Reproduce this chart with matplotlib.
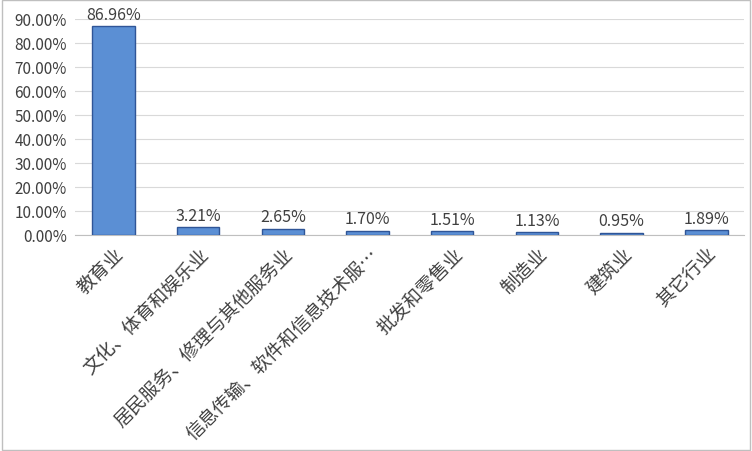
import matplotlib
matplotlib.use("Agg")
import matplotlib.pyplot as plt
from matplotlib.patches import Rectangle

plt.rcParams['font.family'] = ['Noto Sans CJK SC', 'DejaVu Sans']

categories = ["教育业", "文化、体育和娱乐业", "居民服务、修理与其他服务业", "信息传输、软件和信息技术服…",
              "批发和零售业", "制造业", "建筑业", "其它行业"]
values = [86.96, 3.21, 2.65, 1.70, 1.51, 1.13, 0.95, 1.89]
yticks = [0, 10, 20, 30, 40, 50, 60, 70, 80, 90]

fig = plt.figure(figsize=(7.52, 4.52), dpi=100)
ax = fig.add_axes([0.1, 0.478, 0.89, 0.478])
x = list(range(len(categories)))
ax.bar(x, values, width=0.5, color='#5b8fd4', edgecolor='#2f5597', linewidth=1.0, zorder=3)
for xi, v in zip(x, values):
    ax.text(xi, v + 1.5, f"{v:.2f}%", ha='center', va='bottom', fontsize=11.5, color='#404040')
ax.set_ylim(0, 90)
ax.set_xlim(-0.45, len(categories) - 0.55)
ax.set_yticks(yticks)
ax.set_yticklabels([f"{t:.2f}%" for t in yticks], fontsize=11, color='#404040')
ax.set_xticks(x)
ax.set_xticklabels(categories, rotation=45, ha='right', rotation_mode='anchor', fontsize=13.5, color='#404040')
ax.tick_params(length=0, pad=6)
ax.grid(axis='y', color='#d9d9d9', linewidth=0.8, zorder=0)
for s in ['top', 'right', 'left']:
    ax.spines[s].set_visible(False)
ax.spines['bottom'].set_color('#bfbfbf')
fig.patches.append(Rectangle((0.002, 0.002), 0.996, 0.996, transform=fig.transFigure,
                             fill=False, edgecolor='#bfbfbf', linewidth=1))
fig.savefig("out.png", dpi=100)
